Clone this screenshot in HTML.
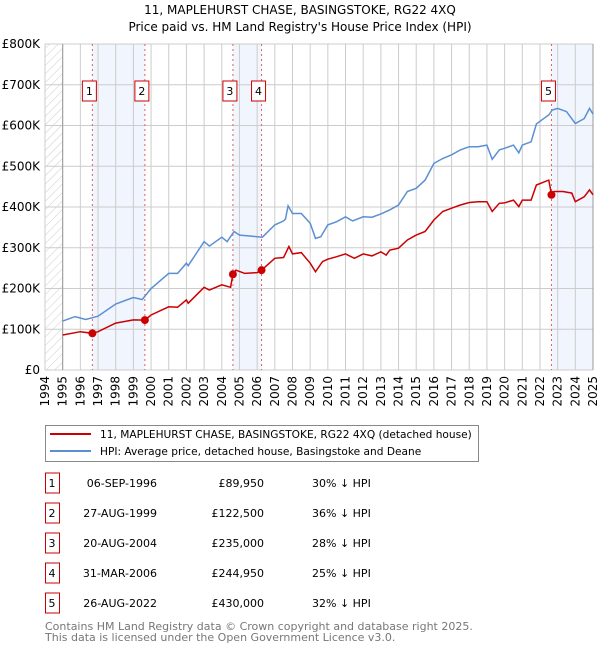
<!DOCTYPE html>
<html><head><meta charset="utf-8"><style>
body{margin:0;background:#fff;font-family:"DejaVu Sans","Liberation Sans",sans-serif;}
svg text{font-family:"DejaVu Sans","Liberation Sans",sans-serif;}
</style></head><body>
<svg id="c" width="600" height="650" xmlns="http://www.w3.org/2000/svg">
<defs><pattern id="hatch" width="6" height="6" patternUnits="userSpaceOnUse" patternTransform="rotate(45)"><line x1="0" y1="0" x2="0" y2="6" stroke="#ccc" stroke-width="1"/></pattern></defs>
<text x="300" y="14" text-anchor="middle" font-size="12">11, MAPLEHURST CHASE, BASINGSTOKE, RG22 4XQ</text>
<text x="300" y="31" text-anchor="middle" font-size="12">Price paid vs. HM Land Registry's House Price Index (HPI)</text>
<g id="plot"></g>
<g>
<rect x="45.5" y="425.5" width="433" height="36" fill="#fff" stroke="#888"/>
<line x1="50" y1="434" x2="91" y2="434" stroke="#cc0000" stroke-width="2"/>
<text x="100" y="438" font-size="10.6">11, MAPLEHURST CHASE, BASINGSTOKE, RG22 4XQ (detached house)</text>
<line x1="50" y1="451" x2="91" y2="451" stroke="#5b8fd4" stroke-width="2"/>
<text x="100" y="455" font-size="10.6">HPI: Average price, detached house, Basingstoke and Deane</text>
</g>
<g id="table" font-size="11"></g>
<text x="45" y="630" font-size="11" fill="#777">Contains HM Land Registry data © Crown copyright and database right 2025.</text>
<text x="45" y="641" font-size="11" fill="#777">This data is licensed under the Open Government Licence v3.0.</text>
</svg>
<script>
const hpiYears=[1995,1995.7,1996.3,1997,1998,1999,1999.5,2000,2001,2001.5,2002,2002.1,2003,2003.3,2004,2004.3,2004.7,2005,2005.5,2006,2006.3,2007,2007.5,2007.6,2007.75,2008,2008.5,2009,2009.3,2009.6,2010,2010.5,2011,2011.4,2012,2012.5,2013,2013.5,2014,2014.5,2015,2015.5,2016,2016.5,2017,2017.5,2018,2018.5,2019,2019.3,2019.7,2020,2020.5,2020.8,2021,2021.5,2021.8,2022.5,2022.7,2023,2023.5,2024,2024.5,2024.8,2025];
const hpiValues=[120,131,124,132,162,178,173,200,237,237,262,256,315,304,326,315,340,331,329,327,326,356,366,370,403,384,384,360,323,327,356,364,376,366,376,375,383,393,405,438,446,466,507,519,528,540,548,548,552,517,540,544,552,533,552,560,604,626,638,642,634,605,617,642,628];
const priceYears=[1995,1996,1996.68,1997,1998,1999,1999.65,2000,2001,2001.5,2002,2002.1,2003,2003.3,2004,2004.5,2004.63,2004.8,2005.3,2006,2006.25,2007,2007.5,2007.8,2008,2008.5,2009,2009.3,2009.7,2010,2010.5,2011,2011.5,2012,2012.5,2013,2013.3,2013.5,2014,2014.5,2015,2015.5,2016,2016.5,2017,2017.5,2018,2018.5,2019,2019.3,2019.7,2020,2020.5,2020.8,2021,2021.5,2021.8,2022.5,2022.65,2022.8,2023.3,2023.8,2024,2024.5,2024.8,2025];
const priceValues=[86,94,90,94,115,123,122.5,135,155,154,172,164,203,196,209,203,235,245,237,239,245,274,276,303,285,288,262,241,266,272,278,285,274,285,280,290,282,294,299,319,331,340,368,389,397,405,411,413,413,389,409,410,417,401,417,417,454,466,430,438,438,434,413,425,442,430];
const saleLabels=["1","2","3","4","5"];
const saleYears=[1996.68,1999.65,2004.63,2006.25,2022.65];
const salePrices=[89.95,122.5,235,244.95,430];
const saleDates=["06-SEP-1996","27-AUG-1999","20-AUG-2004","31-MAR-2006","26-AUG-2022"];
const salePriceText=["£89,950","£122,500","£235,000","£244,950","£430,000"];
const salePct=["30% ↓ HPI","36% ↓ HPI","28% ↓ HPI","25% ↓ HPI","32% ↓ HPI"];
const yTicks=[0,100,200,300,400,500,600,700,800];
const yTickLabels=["£0","£100K","£200K","£300K","£400K","£500K","£600K","£700K","£800K"];
const xTicks=[1994,1995,1996,1997,1998,1999,2000,2001,2002,2003,2004,2005,2006,2007,2008,2009,2010,2011,2012,2013,2014,2015,2016,2017,2018,2019,2020,2021,2022,2023,2024,2025];

const L=45,R=593,T=44,B=370,X0=1994,X1=2025;
const sx=y=>L+(y-X0)/(X1-X0)*(R-L);
const sy=v=>B-v/800*(B-T);
const NS="http://www.w3.org/2000/svg";
const plot=document.getElementById('plot');
function mk(tag,attrs,parent){const e=document.createElementNS(NS,tag);for(const k in attrs)e.setAttribute(k,attrs[k]);(parent||plot).appendChild(e);return e;}

const spans=[[0,1],[2,3]];
spans.forEach(s=>{const r=mk('rect',{x:sx(saleYears[s[0]]),y:T,width:sx(saleYears[s[1]])-sx(saleYears[s[0]]),height:B-T,fill:'#eef3fc',opacity:0.8});

});
const r5=mk('rect',{x:sx(saleYears[4]),y:T,width:R-sx(saleYears[4]),height:B-T,fill:'#eef3fc',opacity:0.8});


const hz=mk('rect',{x:L,y:T,width:sx(1995)-L,height:B-T,fill:'url(#hatch)'});



yTicks.forEach((v,i)=>{
 const g=mk('line',{x1:L,x2:R,y1:sy(v),y2:sy(v),stroke:'#ccc','stroke-width':1});
 
 
 const t=mk('text',{x:40,y:sy(v)+4,'text-anchor':'end','font-size':12});
 t.textContent=yTickLabels[i];
 
 
});
xTicks.forEach(y=>{
 const g=mk('line',{x1:sx(y),x2:sx(y),y1:T,y2:B,stroke:'#ccc','stroke-width':1});
 
 
 const t=mk('text',{x:0,y:0,'text-anchor':'end','font-size':12,transform:`translate(${sx(y)+4},${B+6}) rotate(-90)`});
 t.textContent=y;
 
 
});
const ax=mk('line',{x1:sx(1995),x2:sx(1995),y1:T,y2:B,stroke:'#999'});


const ax2=mk('line',{x1:R,x2:R,y1:T,y2:B,stroke:'#999'});



saleYears.forEach((y,i)=>{
 const l=mk('line',{x1:sx(y),x2:sx(y),y1:T,y2:B,stroke:'#e06060','stroke-dasharray':'2,3','stroke-width':1});
 
 
});

function path(xs,vs){
 const idx=xs.map((x,i)=>i).sort((a,b)=>xs[a]-xs[b]);
 return idx.map((i,k)=>(k?'L':'M')+sx(xs[i]).toFixed(1)+','+sy(vs[i]).toFixed(1)).join(' ');
}
const hp=mk('path',{d:path(hpiYears,hpiValues),fill:'none',stroke:'#5b8fd4','stroke-width':1.5});


const pp=mk('path',{d:path(priceYears,priceValues),fill:'none',stroke:'#cc0000','stroke-width':1.5});



saleYears.forEach((y,i)=>{
 const c=mk('circle',{cx:sx(y),cy:sy(salePrices[i]),r:4,fill:'#cc0000'});
 
 
 const bx=mk('rect',{x:sx(y)-10,y:81,width:14,height:20,fill:'#fff',stroke:'#cc0000'});
 
 
 const t=mk('text',{x:sx(y)-3,y:95,'text-anchor':'middle','font-size':11});
 t.textContent=saleLabels[i];
 
 
});

const tb=document.getElementById('table');
saleLabels.forEach((s,i)=>{
 const yc=483+i*30;
 const b=mk('rect',{x:45.5,y:yc-10,width:14,height:20,fill:'#fff',stroke:'#cc0000'},tb);
 
 
 const vals=[[52,s,'middle'],[157,saleDates[i],'end'],[264,salePriceText[i],'end'],[312,salePct[i],'start']];
 const names=['table-index','table-date','table-price','table-hpi-diff'];
 vals.forEach((v,j)=>{
  const t=mk('text',{x:v[0],y:yc+4,'text-anchor':v[2]},tb);
  t.textContent=v[1];
  
  
 });
});
</script>
</body></html>
